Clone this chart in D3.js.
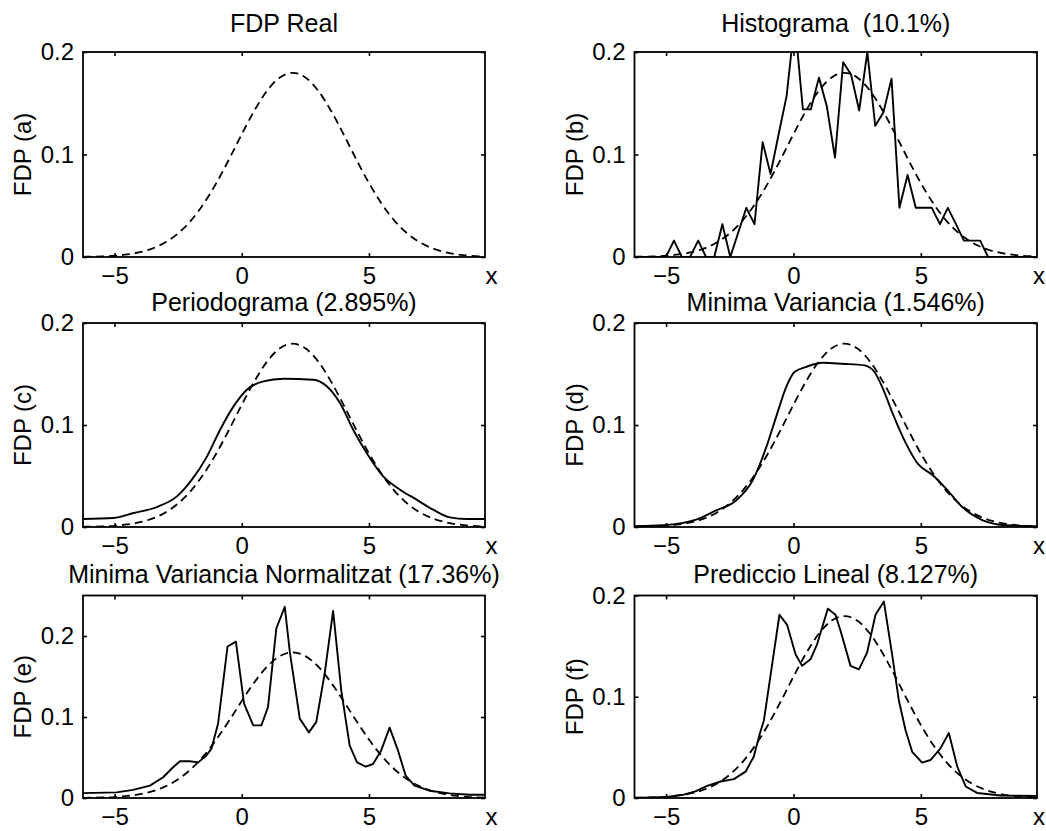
<!DOCTYPE html>
<html>
<head>
<meta charset="utf-8">
<script src="https://cdn.jsdelivr.net/npm/d3@7"></script>
<style>
  body { margin: 0; background: #fff; }
  text { font-family: "Liberation Sans", Arial, Helvetica, sans-serif; fill: #000; }
</style>
</head>
<body>
<div id="chart"></div>
<script>
// tick values shared by all panels
const xTicks = [-5, 0, 5];
const yTicks = [0, 0.1, 0.2];

// real pdf (dashed curve, same in every panel)
const gaussX = [-6.24, -6, -5.5, -5, -4.5, -4, -3.5, -3, -2.5, -2, -1.5, -1, -0.5, 0, 0.5, 1, 1.5, 2,
                2.5, 3, 3.5, 4, 4.5, 5, 5.5, 6, 6.5, 7, 7.5, 8, 8.5, 9, 9.56];
const gaussY = [0.0002, 0.0003, 0.0006, 0.0012, 0.0025, 0.0047, 0.0084, 0.0143, 0.0231, 0.0355, 0.0519, 0.0721, 0.0953, 0.1198, 0.1430, 0.1624, 0.1752, 0.1797,
                0.1752, 0.1624, 0.1430, 0.1198, 0.0953, 0.0721, 0.0519, 0.0355, 0.0231, 0.0143, 0.0084, 0.0047, 0.0025, 0.0012, 0.0005];

// (b) histogram
const histX = [-6.24, -5.01, -4.69, -4.38, -4.06, -3.74, -3.43, -3.11, -2.79, -2.48, -1.85, -1.53, -1.21, -0.90, -0.58, -0.27,
               0.05, 0.37, 0.68, 1.0, 1.31, 1.63, 1.95, 2.26, 2.58, 2.90, 3.21, 3.53, 3.85, 4.16, 4.48, 4.80,
               5.11, 5.43, 5.75, 6.06, 6.38, 6.69, 7.01, 7.33, 7.64, 9.56];
const histY = [0, 0, 0.016, 0, 0, 0.016, 0, 0, 0.032, 0, 0.048, 0.032, 0.112, 0.081, 0.12, 0.157,
               0.23, 0.144, 0.144, 0.175, 0.147, 0.097, 0.19, 0.178, 0.143, 0.2, 0.128, 0.141, 0.174, 0.048, 0.08, 0.048,
               0.048, 0.048, 0.032, 0.048, 0.032, 0.016, 0.016, 0.016, 0, 0];

// (c) periodogram
const perX = [-6.24, -5.04, -4.25, -3.34, -2.55, -1.96, -1.37, -0.85, -0.33, 0.20, 0.85, 1.64,
              2.81, 3.34, 3.86, 4.38, 4.91, 5.56, 6.22, 6.87, 7.52, 8.18, 8.84, 9.56];
const perY = [0.0078, 0.0088, 0.0137, 0.0196, 0.030, 0.0464, 0.069, 0.0954, 0.118, 0.1346, 0.1428, 0.1454,
              0.1444, 0.138, 0.1216, 0.0954, 0.0725, 0.0496, 0.0366, 0.0268, 0.017, 0.0094, 0.0078, 0.0078];

// (d) minimum variance
const mvX = [-6.24, -5.13, -3.82, -3.04, -2.25, -1.6, -1.07, -0.68, -0.29, 0.04, 0.50, 1.15, 1.94,
             2.79, 3.18, 3.51, 3.9, 4.42, 4.88, 5.47, 5.99, 6.65, 7.43, 8.35, 9.56];
const mvY = [0.0007, 0.0017, 0.0072, 0.0163, 0.026, 0.0458, 0.078, 0.108, 0.137, 0.152, 0.157, 0.161, 0.16,
             0.1585, 0.152, 0.1357, 0.111, 0.0818, 0.0621, 0.0507, 0.0376, 0.019, 0.0066, 0.0017, 0.0007];

// (e) normalised minimum variance
const mvnX = [-6.24, -4.92, -4.27, -3.61, -3.09, -2.70, -2.43, -2.04, -1.71, -1.39, -1.19, -0.93, -0.56, -0.23,
              0.09, 0.45, 0.77, 1.03, 1.36, 1.69, 1.89, 2.28, 2.64, 2.93, 3.26, 3.59, 3.91, 4.24,
              4.53, 4.87, 5.16, 5.48, 5.81, 6.14, 6.44, 6.79, 7.38, 8.17, 8.95, 9.56];
const mvnY = [0.006, 0.007, 0.010, 0.0153, 0.0256, 0.038, 0.0454, 0.0454, 0.044, 0.0525, 0.061, 0.092, 0.187, 0.193,
              0.1166, 0.0897, 0.0897, 0.112, 0.2096, 0.236, 0.18, 0.098, 0.081, 0.094, 0.154, 0.231, 0.133, 0.065,
              0.044, 0.0388, 0.042, 0.0587, 0.0868, 0.0587, 0.0277, 0.0153, 0.009, 0.0057, 0.004, 0.004];

// (f) linear prediction
const lpX = [-6.24, -4.96, -4.30, -3.85, -3.39, -2.86, -2.34, -1.88, -1.56, -1.32, -1.16, -0.55, -0.25,
             0.08, 0.34, 0.67, 0.93, 1.35, 1.65, 1.85, 2.24, 2.57, 2.89, 3.22, 3.55, 3.87, 4.14,
             4.4, 4.66, 5.05, 5.38, 5.77, 6.1, 6.43, 6.76, 7.21, 8.13, 9.56];
const lpY = [0, 0.001, 0.0033, 0.0065, 0.012, 0.0163, 0.0186, 0.026, 0.0407, 0.0636, 0.0766, 0.181, 0.171,
             0.142, 0.1305, 0.137, 0.152, 0.187, 0.181, 0.165, 0.1305, 0.127, 0.1435, 0.181, 0.194, 0.142, 0.096,
             0.0669, 0.0456, 0.0349, 0.0375, 0.049, 0.0642, 0.031, 0.0114, 0.005, 0.0025, 0.002];

const titles = ["FDP Real", "Histograma\u00a0 (10.1%)", "Periodograma (2.895%)", "Minima Variancia (1.546%)",
                "Minima Variancia Normalitzat (17.36%)", "Prediccio Lineal (8.127%)"];
const yLabels = ["FDP (a)", "FDP (b)", "FDP (c)", "FDP (d)", "FDP (e)", "FDP (f)"];

const zip = (xs, ys) => xs.map((v, i) => [v, ys[i]]);

const W = 1046, H = 831;
const svg = d3.select("#chart").append("svg")
    .attr("width", W)
    .attr("height", H)
    .style("background", "#fff");

// panel frames (left/right columns, three rows: top, bottom, title baseline)
const cols = [[83, 485], [634.5, 1037]];
const rows = [[52, 257, 31.5], [323, 527, 310.5], [595.5, 798, 583]];

const panels = [
  {series: null, yMax: 0.2, smooth: false},
  {series: zip(histX, histY), yMax: 0.2, smooth: false},
  {series: zip(perX, perY), yMax: 0.2, smooth: true},
  {series: zip(mvX, mvY), yMax: 0.2, smooth: true},
  {series: zip(mvnX, mvnY), yMax: 0.25, smooth: false},
  {series: zip(lpX, lpY), yMax: 0.2, smooth: false}
];

const gauss = zip(gaussX, gaussY);
const fmtX = d => d < 0 ? "\u2212" + Math.abs(d) : String(d);
const fmtY = d => d === 0 ? "0" : d.toFixed(1);

panels.forEach(function(p, i) {
  const [x0, x1] = cols[i % 2];
  const [y0, y1, tY] = rows[Math.floor(i / 2)];

  const x = d3.scaleLinear().domain([-6.24, 9.56]).range([x0, x1]);
  const y = d3.scaleLinear().domain([0, p.yMax]).range([y1, y0]);

  const g = svg.append("g");

  // clip the curves to the box, like matlab does
  g.append("clipPath").attr("id", "clip" + i)
    .append("rect")
      .attr("x", x0).attr("y", y0)
      .attr("width", x1 - x0).attr("height", y1 - y0);

  const plot = g.append("g").attr("clip-path", `url(#clip${i})`);

  plot.append("path")
    .datum(gauss)
    .attr("fill", "none")
    .attr("stroke", "#000")
    .attr("stroke-width", 1.8)
    .attr("stroke-dasharray", "8,5")
    .attr("d", d3.line().x(d => x(d[0])).y(d => y(d[1])).curve(d3.curveMonotoneX));

  if (p.series) {
    plot.append("path")
      .datum(p.series)
      .attr("fill", "none")
      .attr("stroke", "#000")
      .attr("stroke-width", 1.9)
      .attr("stroke-linejoin", "round")
      .attr("d", d3.line().x(d => x(d[0])).y(d => y(d[1]))
        .curve(p.smooth ? d3.curveMonotoneX : d3.curveLinear));
  }

  // axes with inward ticks on all four sides
  const bottom = g.append("g")
    .attr("transform", `translate(0,${y1})`)
    .call(d3.axisBottom(x).tickValues(xTicks).tickSize(-4).tickPadding(9.5).tickFormat(fmtX));
  const left = g.append("g")
    .attr("transform", `translate(${x0},0)`)
    .call(d3.axisLeft(y).tickValues(yTicks).tickSize(-4).tickPadding(9).tickFormat(fmtY));
  g.append("g")
    .attr("transform", `translate(0,${y0})`)
    .call(d3.axisTop(x).tickValues(xTicks).tickSize(-4).tickFormat(""));
  g.append("g")
    .attr("transform", `translate(${x1},0)`)
    .call(d3.axisRight(y).tickValues(yTicks).tickSize(-4).tickFormat(""));

  g.selectAll(".domain").remove();
  g.selectAll(".tick line").attr("stroke", "#000").attr("stroke-width", 1.6);
  [bottom, left].forEach(a => a.selectAll("text")
    .attr("font-size", 24)
    .attr("font-family", "'Liberation Sans', Arial, Helvetica, sans-serif")
    .attr("fill", "#000"));

  g.append("rect")
    .attr("x", x0).attr("y", y0)
    .attr("width", x1 - x0).attr("height", y1 - y0)
    .attr("fill", "none")
    .attr("stroke", "#000")
    .attr("stroke-width", 1.8);

  // x label at the right end of the axis (kept inside the page)
  g.append("text")
    .attr("x", Math.min(x1 + 6.5, W - 7))
    .attr("y", y1 + 27)
    .attr("text-anchor", "middle")
    .attr("font-size", 24)
    .text("x");

  // title
  g.append("text")
    .attr("x", (x0 + x1) / 2)
    .attr("y", tY)
    .attr("text-anchor", "middle")
    .attr("font-size", 25)
    .text(titles[i]);

  // y label
  g.append("text")
    .attr("transform", `translate(${x0 - 52},${(y0 + y1) / 2}) rotate(-90)`)
    .attr("text-anchor", "middle")
    .attr("font-size", 24)
    .text(yLabels[i]);
});
</script>
</body>
</html>
